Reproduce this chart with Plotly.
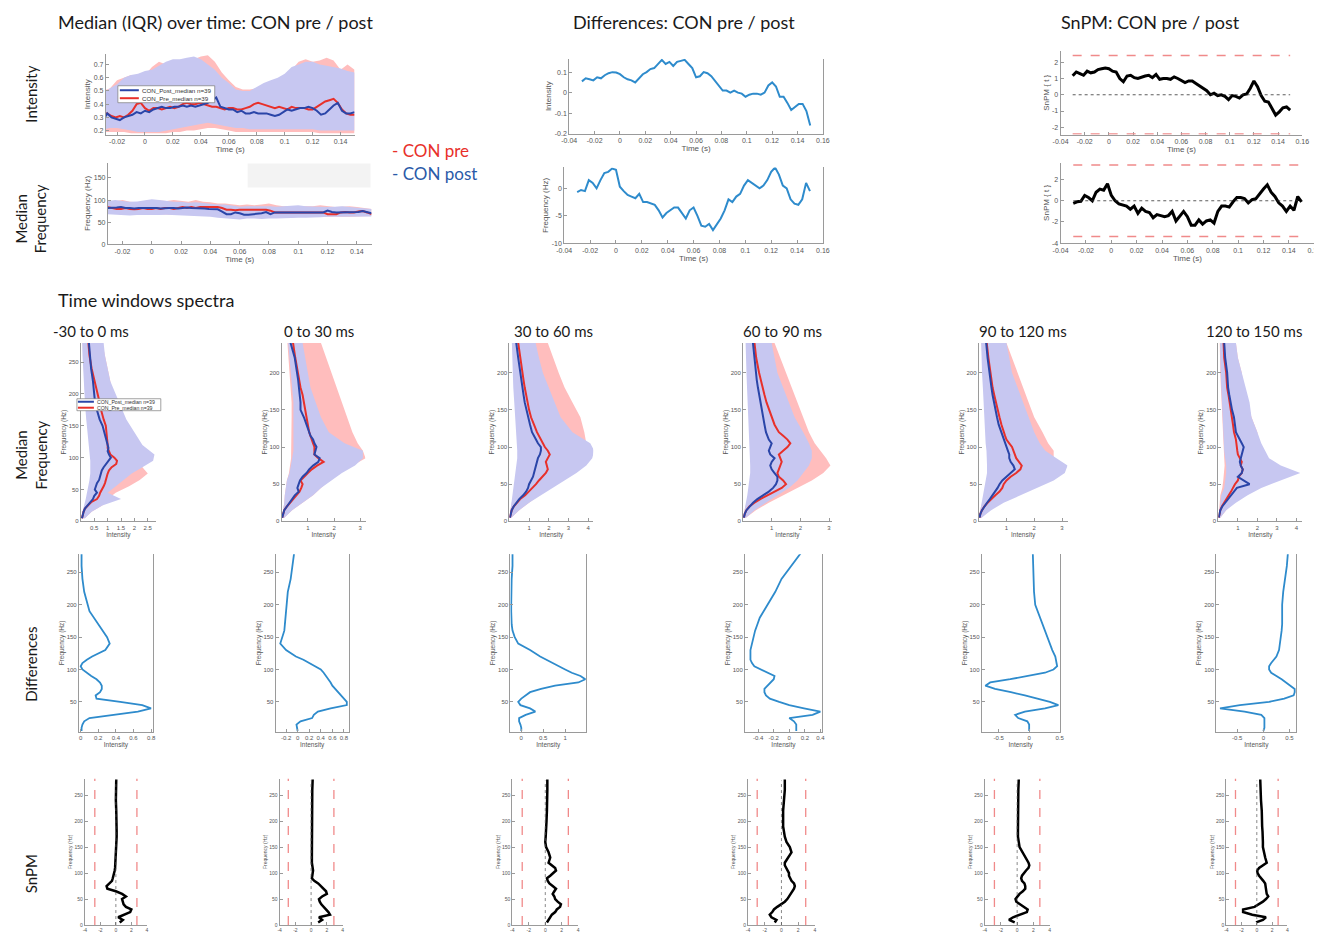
import plotly.graph_objects as go

W, H = 1322, 937

# ---------------- top row data (time courses) ----------------
TIME = [-0.030, -0.027, -0.024, -0.021, -0.018, -0.015, -0.012, -0.009, -0.006, -0.003,
        0.000, 0.003, 0.006, 0.009, 0.012, 0.015, 0.018, 0.021, 0.024, 0.027,
        0.030, 0.033, 0.036, 0.039, 0.042, 0.045, 0.048, 0.051, 0.054, 0.057,
        0.060, 0.063, 0.066, 0.069, 0.072, 0.075, 0.078, 0.081, 0.084, 0.087,
        0.090, 0.093, 0.096, 0.099, 0.102, 0.105, 0.108, 0.111, 0.114, 0.117,
        0.120, 0.123, 0.126, 0.129, 0.132, 0.135, 0.138, 0.141, 0.144, 0.147, 0.150]
TIME_BAND = [-0.030, -0.025, -0.020, -0.015, -0.010, -0.005, 0.000, 0.005, 0.010, 0.015,
             0.020, 0.025, 0.030, 0.035, 0.040, 0.045, 0.050, 0.055, 0.060, 0.065,
             0.070, 0.075, 0.080, 0.085, 0.090, 0.095, 0.100, 0.105, 0.110, 0.115,
             0.120, 0.125, 0.130, 0.135, 0.140, 0.145, 0.150]

INT_POST_MED = [0.28, 0.33, 0.30, 0.29, 0.28, 0.30, 0.31, 0.32, 0.34, 0.33,
                0.35, 0.34, 0.36, 0.37, 0.38, 0.37, 0.37, 0.38, 0.38, 0.39,
                0.38, 0.39, 0.38, 0.39, 0.40, 0.41, 0.43, 0.45, 0.38, 0.37,
                0.36, 0.36, 0.34, 0.35, 0.33, 0.33, 0.34, 0.33, 0.33, 0.33,
                0.32, 0.31, 0.32, 0.34, 0.36, 0.35, 0.36, 0.37, 0.37, 0.38,
                0.37, 0.35, 0.32, 0.33, 0.36, 0.39, 0.41, 0.35, 0.33, 0.33, 0.34]
INT_PRE_MED = [0.33, 0.33, 0.31, 0.30, 0.31, 0.30, 0.32, 0.35, 0.40, 0.41,
               0.37, 0.35, 0.37, 0.37, 0.36, 0.37, 0.38, 0.37, 0.38, 0.40,
               0.41, 0.40, 0.40, 0.41, 0.40, 0.39, 0.38, 0.38, 0.37, 0.36,
               0.37, 0.37, 0.36, 0.36, 0.37, 0.38, 0.40, 0.41, 0.40, 0.39,
               0.38, 0.37, 0.38, 0.37, 0.36, 0.38, 0.37, 0.37, 0.37, 0.36,
               0.36, 0.38, 0.40, 0.42, 0.43, 0.44, 0.41, 0.36, 0.33, 0.32, 0.32]
INT_POST_Q3 = [0.48, 0.52, 0.55, 0.60, 0.62, 0.63, 0.65, 0.66, 0.69, 0.72,
               0.74, 0.74, 0.75, 0.76, 0.74, 0.70, 0.66, 0.60, 0.56, 0.51,
               0.50, 0.50, 0.53, 0.56, 0.58, 0.60, 0.63, 0.68, 0.70, 0.72,
               0.72, 0.70, 0.69, 0.68, 0.67, 0.65, 0.64]
INT_PRE_Q3 = [0.50, 0.52, 0.58, 0.60, 0.62, 0.62, 0.62, 0.68, 0.72, 0.70,
              0.70, 0.71, 0.72, 0.74, 0.76, 0.77, 0.72, 0.64, 0.58, 0.53,
              0.51, 0.51, 0.52, 0.54, 0.55, 0.58, 0.62, 0.66, 0.72, 0.74,
              0.72, 0.73, 0.75, 0.73, 0.66, 0.70, 0.66]
INT_POST_Q1 = [0.21, 0.22, 0.22, 0.21, 0.20, 0.19, 0.19, 0.19, 0.19, 0.20,
               0.21, 0.22, 0.23, 0.24, 0.25, 0.26, 0.25, 0.24, 0.23, 0.22,
               0.22, 0.21, 0.21, 0.21, 0.21, 0.21, 0.21, 0.21, 0.21, 0.21,
               0.21, 0.20, 0.20, 0.20, 0.20, 0.20, 0.20]
INT_PRE_Q1 = [0.19, 0.19, 0.19, 0.19, 0.18, 0.18, 0.18, 0.18, 0.18, 0.18,
              0.19, 0.19, 0.20, 0.20, 0.21, 0.22, 0.22, 0.21, 0.20, 0.19,
              0.19, 0.19, 0.19, 0.19, 0.19, 0.19, 0.19, 0.19, 0.19, 0.19,
              0.19, 0.18, 0.18, 0.18, 0.18, 0.18, 0.18]

FRQ_POST_MED = [82, 82, 83, 84, 82, 82, 81, 82, 82, 83,
                82, 82, 81, 82, 82, 82, 81, 82, 83, 82,
                82, 82, 81, 80, 80, 79, 74, 68, 68, 72,
                70, 67, 67, 68, 69, 70, 73, 68, 72, 72,
                72, 73, 72, 72, 72, 73, 72, 72, 72, 72,
                76, 73, 72, 72, 72, 73, 72, 73, 75, 72, 70]
FRQ_PRE_MED = [84, 82, 80, 80, 82, 80, 79, 80, 82, 80,
               80, 82, 80, 82, 82, 80, 82, 84, 82, 84,
               82, 84, 84, 84, 84, 84, 82, 78, 78, 77,
               78, 78, 78, 78, 78, 78, 78, 76, 72, 72,
               72, 72, 73, 72, 72, 72, 72, 73, 72, 72,
               68, 68, 68, 72, 73, 72, 72, 74, 75, 72, 68]
FRQ_POST_Q3 = [98, 100, 98, 96, 97, 100, 102, 100, 98, 96,
               96, 94, 95, 93, 92, 90, 90, 88, 85, 86,
               86, 87, 86, 85, 86, 87, 88, 86, 85, 85,
               84, 85, 86, 84, 83, 82, 80]
FRQ_PRE_Q3 = [95, 98, 100, 96, 95, 98, 100, 99, 98, 100,
              98, 96, 100, 96, 95, 92, 92, 90, 88, 90,
              88, 90, 92, 88, 86, 86, 85, 86, 86, 88,
              86, 84, 85, 86, 84, 82, 80]
FRQ_POST_Q1 = [68, 66, 66, 65, 66, 67, 66, 66, 67, 66,
               66, 65, 64, 63, 62, 60, 58, 57, 56, 58,
               58, 57, 58, 58, 58, 59, 60, 60, 60, 61,
               62, 62, 62, 62, 62, 63, 63]
FRQ_PRE_Q1 = [70, 68, 67, 66, 68, 68, 67, 68, 67, 67,
              66, 66, 66, 65, 64, 63, 62, 60, 60, 60,
              60, 60, 61, 61, 60, 60, 62, 61, 62, 62,
              62, 63, 62, 62, 63, 63, 64]

DIFF_INT = [0.055, 0.07, 0.065, 0.06, 0.075, 0.07, 0.085, 0.095, 0.1, 0.098,
            0.09, 0.075, 0.065, 0.06, 0.05, 0.07, 0.09, 0.1, 0.115, 0.12,
            0.14, 0.16, 0.14, 0.15, 0.13, 0.15, 0.155, 0.16, 0.14, 0.12,
            0.075, 0.08, 0.1, 0.095, 0.08, 0.055, 0.03, 0.01, 0.01, 0.0,
            0.01, 0.0, -0.005, -0.02, -0.01, -0.005, -0.005, -0.01, 0.0, 0.035,
            0.05, 0.03, -0.02, -0.02, -0.05, -0.085, -0.07, -0.055, -0.055, -0.09, -0.16]
DIFF_FRQ = [-0.7, -0.3, -0.5, 1.5, 1.0, 0.0, 1.5, 2.8, 3.0, 3.6,
            3.4, 0.3, -0.5, -1.2, -1.5, -1.8, -1.0, -2.5, -2.5, -2.8,
            -3.0, -4.0, -5.3, -4.5, -4.0, -3.5, -3.5, -4.5, -5.5, -4.0,
            -3.5, -5.0, -6.8, -7.0, -6.5, -7.6, -6.5, -5.5, -4.0, -2.0,
            -2.5, -1.5, -1.0, 0.5, 1.5, 1.0, 0.5, 0.0, 0.5, 1.5,
            3.0, 3.8, 2.5, 0.5, 0.0, -2.0, -2.8, -3.0, -2.0, 1.0, -0.5]
SNPM_INT = [1.17, 1.4, 1.3, 1.2, 1.45, 1.35, 1.4, 1.55, 1.6, 1.65,
            1.6, 1.45, 1.4, 1.0, 0.8, 1.15, 1.2, 1.05, 1.0, 1.1,
            1.15, 1.2, 1.05, 1.25, 0.95, 1.0, 1.0, 0.95, 1.1, 1.0,
            0.9, 0.75, 0.85, 0.85, 0.7, 0.55, 0.45, 0.25, 0.0, 0.1,
            -0.05, 0.0, -0.1, -0.3, -0.05, -0.1, -0.2, 0.0, 0.05, 0.4,
            0.85, 0.5, -0.05, -0.4, -0.45, -0.9, -1.25, -1.05, -0.8, -0.75, -0.95]
SNPM_FRQ = [-0.25, -0.1, -0.05, 0.5, 0.3, 0.0, 0.8, 1.1, 1.0, 1.6,
            0.5, 0.0, -0.3, -0.4, -0.5, -0.8, -0.5, -1.2, -0.7, -1.0,
            -1.1, -1.6, -1.3, -1.4, -1.5, -1.4, -1.0, -1.9, -1.4, -1.0,
            -1.5, -2.3, -2.3, -1.8, -2.2, -1.9, -1.8, -2.1, -1.0, -0.5,
            -0.5, -0.6, -0.1, 0.3, 0.3, 0.2, -0.2, 0.1, 0.2, 0.7,
            1.1, 1.5, 0.8, 0.4, -0.2, -0.5, -1.0, -0.5, -0.9, 0.4, -0.1]
SNPM_INT_THR = 2.42
SNPM_FRQ_THR = 3.37

# ---------------- spectra data (six time windows) ----------------
WINDOWS = ["-30 to 0 ms", "0 to 30 ms", "30 to 60 ms", "60 to 90 ms", "90 to 120 ms", "120 to 150 ms"]
FREQ = [5, 10, 15, 20, 25, 30, 35, 40, 45, 50, 55, 60, 65, 70, 75, 80, 85, 90, 95, 100,
        105, 110, 115, 120, 130, 140, 150, 160, 170, 180, 190, 200, 220, 240, 260, 280]
FREQ_BAND = [5, 15, 25, 35, 45, 55, 65, 75, 85, 95, 105, 120, 140, 160, 180, 200, 220, 240, 260, 280]

SPEC_POST_MED = [
    [0.04, 0.06, 0.10, 0.15, 0.25, 0.36, 0.45, 0.50, 0.60, 0.52, 0.55, 0.60, 0.68, 0.72, 0.75, 0.78, 0.85, 0.95, 1.05, 1.12,
     1.05, 1.00, 1.03, 1.00, 0.93, 0.88, 0.81, 0.70, 0.62, 0.56, 0.52, 0.50, 0.45, 0.38, 0.33, 0.30],
    [0.02, 0.05, 0.10, 0.20, 0.30, 0.40, 0.50, 0.65, 0.60, 0.65, 0.70, 0.80, 0.95, 1.05, 1.20, 1.40, 1.45, 1.25, 1.28, 1.33,
     1.25, 1.20, 1.10, 1.04, 0.95, 0.85, 0.72, 0.72, 0.70, 0.66, 0.63, 0.59, 0.50, 0.34, 0.28, 0.24],
    [0.03, 0.06, 0.12, 0.22, 0.35, 0.50, 0.70, 0.85, 0.95, 1.00, 1.10, 1.20, 1.25, 1.30, 1.35, 1.40, 1.45, 1.55, 1.60, 1.60,
     1.45, 1.35, 1.25, 1.15, 1.05, 0.95, 0.85, 0.78, 0.72, 0.66, 0.60, 0.55, 0.45, 0.35, 0.30, 0.25],
    [0.03, 0.06, 0.12, 0.22, 0.35, 0.50, 0.70, 0.90, 1.05, 1.15, 1.20, 1.20, 1.10, 1.00, 0.95, 1.00, 1.10, 0.95, 0.90, 0.95,
     1.00, 0.90, 0.85, 0.80, 0.75, 0.70, 0.65, 0.60, 0.56, 0.52, 0.48, 0.45, 0.38, 0.32, 0.28, 0.24],
    [0.03, 0.06, 0.12, 0.20, 0.30, 0.40, 0.50, 0.60, 0.68, 0.75, 0.85, 1.00, 1.15, 1.30, 1.25, 1.15, 1.10, 1.10, 1.05, 1.00,
     0.95, 0.90, 0.85, 0.80, 0.72, 0.66, 0.60, 0.55, 0.50, 0.46, 0.42, 0.38, 0.32, 0.27, 0.23, 0.20],
    [0.02, 0.05, 0.10, 0.20, 0.35, 0.50, 0.65, 0.80, 0.95, 1.60, 1.30, 1.00, 1.20, 1.25, 1.15, 1.10, 1.15, 1.20, 1.25, 1.30,
     1.20, 1.10, 1.00, 0.90, 0.85, 0.80, 0.70, 0.62, 0.56, 0.50, 0.47, 0.45, 0.35, 0.30, 0.25, 0.20],
]
SPEC_PRE_MED = [
    [0.04, 0.06, 0.10, 0.15, 0.27, 0.38, 0.60, 0.68, 0.72, 0.80, 0.85, 0.90, 0.93, 0.95, 1.00, 1.05, 1.15, 1.32, 1.35, 1.25,
     1.10, 1.05, 1.00, 1.00, 0.97, 0.95, 0.93, 0.85, 0.78, 0.72, 0.68, 0.62, 0.50, 0.40, 0.32, 0.28],
    [0.02, 0.05, 0.10, 0.20, 0.32, 0.42, 0.55, 0.68, 0.75, 0.80, 0.72, 0.85, 1.00, 1.15, 1.35, 1.60, 1.40, 1.25, 1.25, 1.25,
     1.20, 1.15, 1.10, 1.05, 1.00, 0.95, 0.88, 0.85, 0.80, 0.72, 0.68, 0.62, 0.52, 0.42, 0.35, 0.30],
    [0.03, 0.06, 0.12, 0.22, 0.38, 0.55, 0.80, 1.00, 1.20, 1.35, 1.50, 1.70, 1.85, 1.95, 1.90, 1.85, 1.95, 2.05, 1.95, 1.80,
     1.70, 1.60, 1.50, 1.40, 1.25, 1.10, 1.00, 0.92, 0.85, 0.78, 0.72, 0.66, 0.55, 0.45, 0.38, 0.30],
    [0.03, 0.06, 0.12, 0.22, 0.40, 0.60, 0.85, 1.10, 1.35, 1.50, 1.40, 1.25, 1.20, 1.25, 1.30, 1.35, 1.30, 1.25, 1.40, 1.55,
     1.65, 1.55, 1.40, 1.25, 1.10, 1.00, 0.90, 0.82, 0.75, 0.68, 0.62, 0.56, 0.46, 0.38, 0.32, 0.28],
    [0.03, 0.06, 0.12, 0.20, 0.32, 0.45, 0.60, 0.75, 0.85, 0.90, 1.00, 1.15, 1.35, 1.50, 1.55, 1.45, 1.35, 1.30, 1.25, 1.20,
     1.10, 1.00, 0.95, 0.90, 0.82, 0.75, 0.68, 0.62, 0.56, 0.50, 0.46, 0.42, 0.35, 0.29, 0.24, 0.20],
    [0.02, 0.05, 0.10, 0.18, 0.30, 0.45, 0.55, 0.65, 0.75, 0.85, 1.00, 1.05, 1.20, 1.25, 1.15, 1.20, 1.10, 1.00, 0.97, 0.95,
     0.92, 0.90, 0.85, 0.80, 0.75, 0.70, 0.65, 0.60, 0.52, 0.45, 0.42, 0.40, 0.30, 0.25, 0.20, 0.20],
]
SPEC_POST_Q3 = [
    [0.15, 0.40, 0.80, 1.50, 1.00, 1.30, 1.60, 1.90, 2.30, 2.70, 2.75, 2.30, 2.00, 1.70, 1.50, 1.30, 1.10, 1.00, 0.90, 0.85],
    [0.10, 0.40, 0.80, 1.20, 1.50, 1.90, 2.30, 2.80, 3.10, 3.10, 2.40, 1.80, 1.50, 1.30, 1.10, 1.00, 0.90, 0.80, 0.70, 0.60],
    [0.10, 0.50, 1.00, 1.60, 2.20, 2.80, 3.40, 3.90, 4.20, 4.30, 4.10, 3.20, 2.60, 2.30, 2.00, 1.70, 1.50, 1.30, 1.10, 1.00],
    [0.10, 0.40, 0.80, 1.20, 1.60, 1.90, 2.10, 2.30, 2.40, 2.40, 2.30, 2.10, 1.80, 1.60, 1.40, 1.20, 1.10, 1.00, 0.90, 0.80],
    [0.10, 0.45, 0.90, 1.50, 2.10, 2.70, 3.10, 3.20, 2.80, 2.40, 2.20, 2.00, 1.80, 1.60, 1.40, 1.20, 1.10, 1.00, 0.90, 0.80],
    [0.10, 0.40, 0.90, 1.50, 2.20, 3.20, 4.20, 3.20, 2.60, 2.40, 2.20, 2.00, 1.70, 1.60, 1.40, 1.20, 1.00, 0.90, 0.80, 0.70],
]
SPEC_PRE_Q3 = [
    [0.15, 0.40, 0.80, 1.00, 1.30, 1.80, 2.20, 2.50, 2.30, 2.20, 2.20, 2.00, 1.80, 1.60, 1.40, 1.20, 1.10, 1.00, 0.90, 0.80],
    [0.10, 0.40, 0.80, 1.20, 1.50, 1.80, 2.20, 2.70, 3.20, 3.10, 2.90, 2.70, 2.50, 2.30, 2.10, 1.90, 1.70, 1.50, 1.30, 1.20],
    [0.10, 0.50, 1.00, 1.50, 2.00, 2.60, 3.10, 3.50, 3.80, 3.90, 3.90, 3.80, 3.60, 3.20, 2.80, 2.50, 2.20, 1.90, 1.60, 1.40],
    [0.10, 0.45, 0.90, 1.40, 1.90, 2.40, 2.80, 3.05, 2.90, 2.70, 2.50, 2.30, 2.10, 1.90, 1.70, 1.50, 1.30, 1.10, 1.00, 0.90],
    [0.10, 0.40, 0.80, 1.30, 1.80, 2.20, 2.50, 2.60, 2.70, 2.70, 2.50, 2.30, 2.00, 1.80, 1.60, 1.40, 1.20, 1.00, 0.90, 0.80],
    [0.10, 0.40, 0.80, 1.30, 1.80, 2.30, 2.80, 2.80, 2.40, 2.20, 2.00, 2.00, 1.70, 1.50, 1.30, 1.20, 1.00, 0.90, 0.80, 0.70],
]
SPEC_POST_Q1 = [
    [0.02, 0.05, 0.12, 0.18, 0.22, 0.28, 0.32, 0.35, 0.35, 0.35, 0.32, 0.30, 0.25, 0.20, 0.16, 0.12, 0.10, 0.08, 0.06, 0.05],
    [0.01, 0.05, 0.10, 0.12, 0.15, 0.20, 0.30, 0.35, 0.40, 0.45, 0.45, 0.45, 0.45, 0.45, 0.40, 0.35, 0.30, 0.25, 0.20, 0.20],
    [0.01, 0.05, 0.10, 0.15, 0.20, 0.25, 0.30, 0.35, 0.40, 0.40, 0.40, 0.35, 0.30, 0.25, 0.20, 0.18, 0.15, 0.12, 0.10, 0.08],
    [0.01, 0.05, 0.10, 0.15, 0.20, 0.22, 0.25, 0.25, 0.25, 0.25, 0.22, 0.20, 0.18, 0.16, 0.14, 0.12, 0.10, 0.08, 0.07, 0.06],
    [0.01, 0.05, 0.10, 0.15, 0.20, 0.25, 0.30, 0.30, 0.30, 0.28, 0.25, 0.22, 0.20, 0.17, 0.15, 0.12, 0.10, 0.08, 0.07, 0.06],
    [0.01, 0.05, 0.10, 0.15, 0.30, 0.35, 0.40, 0.40, 0.35, 0.30, 0.28, 0.25, 0.20, 0.18, 0.15, 0.12, 0.10, 0.08, 0.06, 0.05],
]
SPEC_PRE_Q1 = [
    [0.02, 0.05, 0.15, 0.22, 0.28, 0.32, 0.36, 0.40, 0.40, 0.40, 0.38, 0.34, 0.28, 0.22, 0.18, 0.14, 0.12, 0.10, 0.08, 0.06],
    [0.01, 0.05, 0.10, 0.12, 0.15, 0.20, 0.28, 0.32, 0.36, 0.38, 0.38, 0.38, 0.38, 0.38, 0.34, 0.30, 0.26, 0.22, 0.18, 0.18],
    [0.01, 0.05, 0.12, 0.20, 0.30, 0.40, 0.50, 0.55, 0.55, 0.55, 0.50, 0.45, 0.40, 0.35, 0.30, 0.25, 0.20, 0.16, 0.13, 0.10],
    [0.01, 0.05, 0.12, 0.20, 0.30, 0.40, 0.45, 0.50, 0.50, 0.45, 0.42, 0.40, 0.35, 0.30, 0.25, 0.20, 0.16, 0.13, 0.10, 0.08],
    [0.01, 0.05, 0.12, 0.20, 0.28, 0.35, 0.40, 0.45, 0.45, 0.42, 0.38, 0.34, 0.30, 0.25, 0.20, 0.16, 0.13, 0.10, 0.08, 0.07],
    [0.01, 0.04, 0.07, 0.10, 0.20, 0.25, 0.30, 0.32, 0.30, 0.28, 0.25, 0.22, 0.18, 0.16, 0.13, 0.10, 0.08, 0.07, 0.05, 0.04],
]
SPEC_DIFF = [
    [0.01, 0.01, 0.02, 0.04, 0.10, 0.35, 0.65, 0.80, 0.70, 0.45, 0.18, 0.17, 0.22, 0.24, 0.24, 0.22, 0.18, 0.12, 0.07, 0.02,
     0.00, 0.02, 0.07, 0.13, 0.28, 0.33, 0.30, 0.25, 0.20, 0.15, 0.10, 0.08, 0.04, 0.02, 0.01, 0.01],
    [0.00, -0.01, -0.02, 0.05, 0.25, 0.28, 0.35, 0.57, 0.85, 0.85, 0.80, 0.75, 0.70, 0.65, 0.60, 0.57, 0.53, 0.50, 0.45, 0.40,
     0.30, 0.22, 0.10, -0.03, -0.20, -0.30, -0.26, -0.23, -0.22, -0.21, -0.20, -0.20, -0.17, -0.12, -0.09, -0.06],
    [0.00, 0.00, -0.02, -0.05, -0.05, 0.10, 0.32, 0.20, -0.02, -0.07, 0.00, 0.10, 0.20, 0.45, 0.77, 1.30, 1.46, 1.35, 1.15, 1.00,
     0.85, 0.70, 0.55, 0.43, 0.20, -0.07, -0.15, -0.20, -0.22, -0.23, -0.23, -0.23, -0.23, -0.22, -0.20, -0.20],
    [0.09, 0.09, 0.09, 0.06, 0.00, 0.30, 0.40, 0.19, 0.00, -0.13, -0.25, -0.30, -0.32, -0.32, -0.28, -0.25, -0.20, -0.19, -0.28, -0.38,
     -0.45, -0.48, -0.50, -0.50, -0.50, -0.48, -0.46, -0.44, -0.41, -0.38, -0.33, -0.28, -0.18, -0.10, 0.03, 0.15],
    [0.00, 0.00, 0.00, -0.03, -0.18, -0.23, -0.07, 0.26, 0.48, 0.34, 0.15, -0.07, -0.30, -0.56, -0.72, -0.64, -0.31, 0.00, 0.26, 0.40,
     0.46, 0.45, 0.44, 0.43, 0.38, 0.34, 0.30, 0.26, 0.22, 0.18, 0.14, 0.10, 0.08, 0.07, 0.06, 0.06],
    [0.00, 0.02, 0.02, 0.02, 0.02, -0.04, -0.36, -0.83, -0.45, 0.11, 0.40, 0.58, 0.60, 0.60, 0.52, 0.45, 0.35, 0.25, 0.15, 0.11,
     0.11, 0.15, 0.20, 0.25, 0.30, 0.32, 0.34, 0.35, 0.36, 0.36, 0.36, 0.36, 0.38, 0.42, 0.45, 0.47],
]
SPEC_SNPM = [
    [0.5, 0.9, 0.3, 1.0, 1.85, 2.0, 1.3, 1.0, 0.85, 0.8, 1.3, 0.8, 0.0, -1.1, -1.2, -0.85, -0.5, -0.4, -0.3, -0.2,
     -0.15, -0.1, -0.08, -0.05, 0.0, 0.03, 0.05, 0.08, 0.1, 0.1, 0.1, 0.1, 0.05, 0.0, 0.0, 0.05],
    [0.9, 1.4, 1.0, 2.4, 2.2, 1.9, 1.5, 1.3, 1.1, 1.0, 1.4, 2.0, 1.9, 1.6, 1.2, 0.9, 0.4, 0.1, 0.15, 0.25,
     0.25, 0.2, 0.15, 0.1, 0.1, 0.1, 0.1, 0.1, 0.1, 0.15, 0.15, 0.15, 0.1, 0.1, 0.15, 0.2],
    [0.2, 0.4, 0.6, 0.8, 1.2, 1.4, 1.8, 1.9, 1.5, 1.2, 1.1, 0.9, 1.1, 1.3, 0.9, 0.5, 0.3, 0.2, 0.6, 0.9,
     1.3, 1.2, 0.8, 0.4, 0.6, 0.4, 0.1, 0.0, 0.05, 0.1, 0.15, 0.15, 0.2, 0.25, 0.25, 0.25],
    [-0.8, -0.6, -1.2, -1.4, -1.1, -0.9, -0.5, 0.0, 0.4, 0.7, 0.9, 1.2, 1.4, 1.5, 1.6, 1.5, 1.2, 1.0, 0.9, 0.9,
     0.7, 0.5, 0.4, 0.4, 0.8, 1.2, 1.0, 0.6, 0.4, 0.3, 0.2, 0.2, 0.2, 0.3, 0.4, 0.4],
    [-0.3, -1.0, -0.5, 0.5, 1.2, 1.3, 0.8, 0.3, -0.1, -0.2, 0.0, 0.3, 0.7, 1.0, 1.0, 0.9, 0.6, 0.5, 0.6, 0.8,
     1.1, 1.4, 1.5, 1.4, 1.0, 0.6, 0.3, 0.2, 0.1, 0.1, 0.1, 0.1, 0.1, 0.15, 0.15, 0.2],
    [-0.1, 0.8, 1.2, -0.6, -1.8, -1.8, -0.3, 0.3, 0.8, 1.2, 1.5, 1.3, 1.25, 1.2, 1.15, 1.1, 0.85, 0.55, 0.3, 0.1,
     0.05, 0.3, 0.9, 1.3, 1.1, 0.9, 0.8, 0.8, 0.8, 0.75, 0.7, 0.7, 0.65, 0.55, 0.5, 0.45],
]
SPEC_SNPM_THR = [2.72, 2.9, 2.8, 2.9, 2.8, 2.8]

# ---------------- tick definitions ----------------
TICKS_T_A = [-0.02, 0, 0.02, 0.04, 0.06, 0.08, 0.1, 0.12, 0.14]
TICKS_T_B = [-0.04, -0.02, 0, 0.02, 0.04, 0.06, 0.08, 0.1, 0.12, 0.14, 0.16]
MED_XT = [[0.5, 1, 1.5, 2, 2.5], [1, 2, 3], [1, 2, 3, 4], [1, 2, 3], [1, 2, 3], [1, 2, 3, 4]]
DIFF_XT = [[0, 0.2, 0.4, 0.6, 0.8], [-0.2, 0, 0.2, 0.4, 0.6, 0.8], [0, 0.5, 1],
           [-0.4, -0.2, 0, 0.2, 0.4], [-0.5, 0, 0.5], [-0.5, 0, 0.5]]
SNPM_XT = [-4, -2, 0, 2, 4]

# ---------------- styling / layout (pixel boxes, in reference-picture pixels) ----------------
RED = "#e8302a"
BLUE = "#2a45a8"
PINK = "#ffbdbd"
LAV = "#c7c7f1"
DIFFC = "#2e8bcc"
AXC = "#9a9a9a"
TXC = "#555555"
TICKFAM = "Liberation Sans, Arial, sans-serif"
TITLEFAM = "Lato, Open Sans, sans-serif"

MED_X = [(80, 155), (281, 365), (509, 593), (743, 832), (979, 1068), (1219, 1303)]
MED_XR = [[0, 2.8], [0, 3.2], [0, 4.25], [0, 3.1], [0, 3.2], [0, 4.3]]
DIFF_X = [(78, 152), (275, 348), (510, 586), (745, 822), (982, 1060), (1217, 1297)]
DIFF_XR = [[-0.02, 0.82], [-0.38, 0.88], [-0.25, 1.48], [-0.57, 0.42], [-0.78, 0.5], [-0.9, 0.63]]
SNPM_X = [(84, 146), (279, 342), (512, 578), (748, 815), (985, 1050), (1227, 1288)]

# the photographed page shows the figure offset/scaled slightly; map target pixels -> paper
OFF_X, SC_X, OFF_Y = 15.0, 0.99, 7.0


def PX(r):
    return ((r - OFF_X) / SC_X) / W


def PY(r):
    return 1 - (r - OFF_Y) / H


fig = go.Figure()
layout = {}


def fmt(v):
    return f"{v:g}"


def make_axes(n, xpx, ypx, xr, yr, xt, yt, xtitle, ytitle, fs, tfs, mirror_y=False):
    xname = "xaxis" if n == 1 else f"xaxis{n}"
    yname = "yaxis" if n == 1 else f"yaxis{n}"
    common = dict(showline=True, linecolor=AXC, linewidth=1, ticks="inside", ticklen=3,
                  tickcolor=AXC, showgrid=False, zeroline=False, fixedrange=True,
                  tickfont=dict(family=TICKFAM, size=fs, color=TXC))
    layout[xname] = dict(common, domain=[PX(xpx[0]), PX(xpx[1])], range=xr,
                         anchor="y" if n == 1 else f"y{n}",
                         tickvals=xt, ticktext=[fmt(v) for v in xt],
                         title=dict(text=xtitle, font=dict(family=TICKFAM, size=tfs, color=TXC), standoff=1))
    layout[yname] = dict(common, domain=[PY(ypx[1]), PY(ypx[0])], range=yr,
                         anchor="x" if n == 1 else f"x{n}", mirror=mirror_y,
                         tickvals=yt, ticktext=[fmt(v) for v in yt],
                         title=dict(text=ytitle, font=dict(family=TICKFAM, size=tfs, color=TXC), standoff=1))


def refs(n):
    return ("x", "y") if n == 1 else (f"x{n}", f"y{n}")


def band_time(n, t, lo, hi, color):
    xr_, yr_ = refs(n)
    fig.add_trace(go.Scatter(x=t + t[::-1], y=hi + lo[::-1], fill="toself", fillcolor=color,
                             line=dict(width=0), mode="lines", hoverinfo="skip",
                             showlegend=False, xaxis=xr_, yaxis=yr_))


def band_freq(n, f, lo, hi, color):
    xr_, yr_ = refs(n)
    fig.add_trace(go.Scatter(x=hi + lo[::-1], y=f + f[::-1], fill="toself", fillcolor=color,
                             line=dict(width=0), mode="lines", hoverinfo="skip",
                             showlegend=False, xaxis=xr_, yaxis=yr_))


def line(n, x, y, color, width, name=None, dash=None):
    xr_, yr_ = refs(n)
    fig.add_trace(go.Scatter(x=x, y=y, mode="lines", line=dict(color=color, width=width, dash=dash),
                             name=name, showlegend=False, xaxis=xr_, yaxis=yr_))


shapes = []
annotations = []


def hline(n, y, x0, x1, color, dash, width):
    xr_, yr_ = refs(n)
    shapes.append(dict(type="line", xref=xr_, yref=yr_, x0=x0, x1=x1, y0=y, y1=y,
                       line=dict(color=color, dash=dash, width=width)))


def vline(n, x, y0, y1, color, dash, width):
    xr_, yr_ = refs(n)
    shapes.append(dict(type="line", xref=xr_, yref=yr_, x0=x, x1=x, y0=y0, y1=y1,
                       line=dict(color=color, dash=dash, width=width)))


def text(px, py, s, size, color="#1a1a1a", xanchor="left", angle=0, fam=TITLEFAM):
    annotations.append(dict(xref="paper", yref="paper", x=PX(px), y=PY(py), text=s,
                            showarrow=False, xanchor=xanchor, yanchor="middle", textangle=angle,
                            font=dict(family=fam, size=size, color=color)))


# ---- A1: intensity median / IQR over time ----
make_axes(1, (105, 354), (53, 134), [-0.028, 0.15], [0.17, 0.78], TICKS_T_A,
          [0.2, 0.3, 0.4, 0.5, 0.6, 0.7], "Time (s)", "Intensity", 7, 8)
band_time(1, TIME_BAND, INT_PRE_Q1, INT_PRE_Q3, PINK)
band_time(1, TIME_BAND, INT_POST_Q1, INT_POST_Q3, LAV)
line(1, TIME, INT_PRE_MED, RED, 2, "CON_Pre_median n=39")
line(1, TIME, INT_POST_MED, BLUE, 2, "CON_Post_median n=39")

# ---- A2: frequency median / IQR over time ----
make_axes(2, (107, 371), (162, 244), [-0.03, 0.15], [0, 185], TICKS_T_A,
          [0, 50, 100, 150], "Time (s)", "Frequency (Hz)", 7, 8)
band_time(2, TIME_BAND, FRQ_PRE_Q1, FRQ_PRE_Q3, PINK)
band_time(2, TIME_BAND, FRQ_POST_Q1, FRQ_POST_Q3, LAV)
line(2, TIME, FRQ_PRE_MED, RED, 2)
line(2, TIME, FRQ_POST_MED, BLUE, 2)

# ---- B: differences ----
make_axes(3, (569, 823), (58, 133), [-0.04, 0.16], [-0.2, 0.165], TICKS_T_B,
          [-0.2, -0.1, 0, 0.1], "Time (s)", "Intensity", 7, 8, mirror_y=True)
line(3, TIME, DIFF_INT, DIFFC, 2)
make_axes(4, (564, 823), (167, 243), [-0.04, 0.16], [-10, 3.8], TICKS_T_B,
          [-10, -5, 0], "Time (s)", "Frequency (Hz)", 7, 8, mirror_y=True)
line(4, TIME, DIFF_FRQ, DIFFC, 2)

# ---- C: SnPM ----
make_axes(5, (1061, 1303), (50, 134), [-0.04, 0.16], [-2.45, 2.7], TICKS_T_B,
          [-2, -1, 0, 1, 2], "Time (s)", "SnPM { t }", 7, 8)
hline(5, SNPM_INT_THR, TIME[0], TIME[-1], "#f08a8a", "dash", 1.5)
hline(5, -SNPM_INT_THR, TIME[0], TIME[-1], "#f08a8a", "dash", 1.5)
hline(5, 0, TIME[0], TIME[-1], "#333333", "dot", 0.8)
line(5, TIME, SNPM_INT, "black", 3)
make_axes(6, (1061, 1315), (162, 243), [-0.04, 0.16], [-4, 3.6], TICKS_T_B,
          [-4, -2, 0, 2], "Time (s)", "SnPM { t }", 7, 8)
hline(6, SNPM_FRQ_THR, TIME[0], TIME[-1], "#f08a8a", "dash", 1.5)
hline(6, -SNPM_FRQ_THR, TIME[0], TIME[-1], "#f08a8a", "dash", 1.5)
hline(6, 0, TIME[0], TIME[-1], "#333333", "dot", 0.8)
line(6, TIME, SNPM_FRQ, "black", 3)

# ---- spectra rows ----
for w in range(6):
    n_med, n_diff, n_snpm = 7 + w, 13 + w, 19 + w
    ymax = 280 if w == 0 else 240
    yt = [0, 50, 100, 150, 200, 250] if w == 0 else [0, 50, 100, 150, 200]
    make_axes(n_med, MED_X[w], (343, 522), MED_XR[w], [0, ymax], MED_XT[w], yt,
              "Intensity", "Frequency (Hz)", 6, 6.5)
    band_freq(n_med, FREQ_BAND, SPEC_PRE_Q1[w], SPEC_PRE_Q3[w], PINK)
    band_freq(n_med, FREQ_BAND, SPEC_POST_Q1[w], SPEC_POST_Q3[w], LAV)
    line(n_med, SPEC_PRE_MED[w], FREQ, RED, 2)
    line(n_med, SPEC_POST_MED[w], FREQ, BLUE, 2)

    make_axes(n_diff, DIFF_X[w], (555, 733), DIFF_XR[w], [4, 278], DIFF_XT[w],
              [50, 100, 150, 200, 250], "Intensity", "Frequency (Hz)", 6, 6.5, mirror_y=True)
    line(n_diff, SPEC_DIFF[w], FREQ, DIFFC, 1.8)

    make_axes(n_snpm, SNPM_X[w], (780, 927), [-4, 4], [0, 282], SNPM_XT,
              [0, 50, 100, 150, 200, 250], "", "Frequency (Hz)", 5, 5)
    vline(n_snpm, SPEC_SNPM_THR[w], 0, 282, "#f08a8a", "dash", 1.3)
    vline(n_snpm, -SPEC_SNPM_THR[w], 0, 282, "#f08a8a", "dash", 1.3)
    vline(n_snpm, 0, 0, 278, "#555555", "dot", 0.7)
    line(n_snpm, SPEC_SNPM[w], FREQ, "black", 2.5)


# ---- manual legends ----
def legend_box(x0, y0, x1, y1, fs, lx0, lx1, tx, ya, yb):
    shapes.append(dict(type="rect", xref="paper", yref="paper", x0=PX(x0), x1=PX(x1),
                       y0=PY(y1), y1=PY(y0), fillcolor="white", line=dict(color="#7a7a7a", width=0.7)))
    shapes.append(dict(type="line", xref="paper", yref="paper", x0=PX(lx0), x1=PX(lx1),
                       y0=PY(ya), y1=PY(ya), line=dict(color=BLUE, width=2)))
    shapes.append(dict(type="line", xref="paper", yref="paper", x0=PX(lx0), x1=PX(lx1),
                       y0=PY(yb), y1=PY(yb), line=dict(color=RED, width=2)))
    text(tx, ya, "CON_Post_median n=39", fs, "#333333", fam=TICKFAM)
    text(tx, yb, "CON_Pre_median n=39", fs, "#333333", fam=TICKFAM)


legend_box(117, 85, 214, 102, 6.2, 119, 138, 139, 89.5, 97.5)
legend_box(76, 399, 160, 411, 5.2, 77, 93, 94, 402, 408)

# grey artefact box in the frequency panel
shapes.append(dict(type="rect", xref="paper", yref="paper", x0=PX(247), x1=PX(370),
                   y0=PY(187), y1=PY(163), fillcolor="#f3f3f3", line=dict(width=0), layer="below"))

# ---- titles and row labels ----
text(55, 21, "Median (IQR) over time: CON pre / post", 18)
text(684, 21, "Differences: CON pre / post", 18, xanchor="center")
text(1151, 21, "SnPM: CON pre / post", 18, xanchor="center")
text(30, 93, "Intensity", 15, angle=-90, xanchor="center")
text(30, 218, "Median<br>Frequency", 15, angle=-90, xanchor="center")
text(390, 150, "- CON pre", 17, RED)
text(390, 173, "- CON post", 17, "#2a5aa8")
text(55, 300, "Time windows spectra", 18)
for cx, lab in zip([90, 318, 553, 783, 1023, 1255], WINDOWS):
    text(cx, 331, lab, 15, xanchor="center")
text(30, 455, "Median<br>Frequency", 15, angle=-90, xanchor="center")
text(30, 665, "Differences", 15, angle=-90, xanchor="center")
text(30, 875, "SnPM", 15, angle=-90, xanchor="center")

fig.update_layout(**layout)
fig.update_layout(width=W, height=H, margin=dict(l=0, r=0, t=0, b=0), plot_bgcolor="white",
                  paper_bgcolor="white", showlegend=False, shapes=shapes, annotations=annotations)
fig.write_html("out.html")
